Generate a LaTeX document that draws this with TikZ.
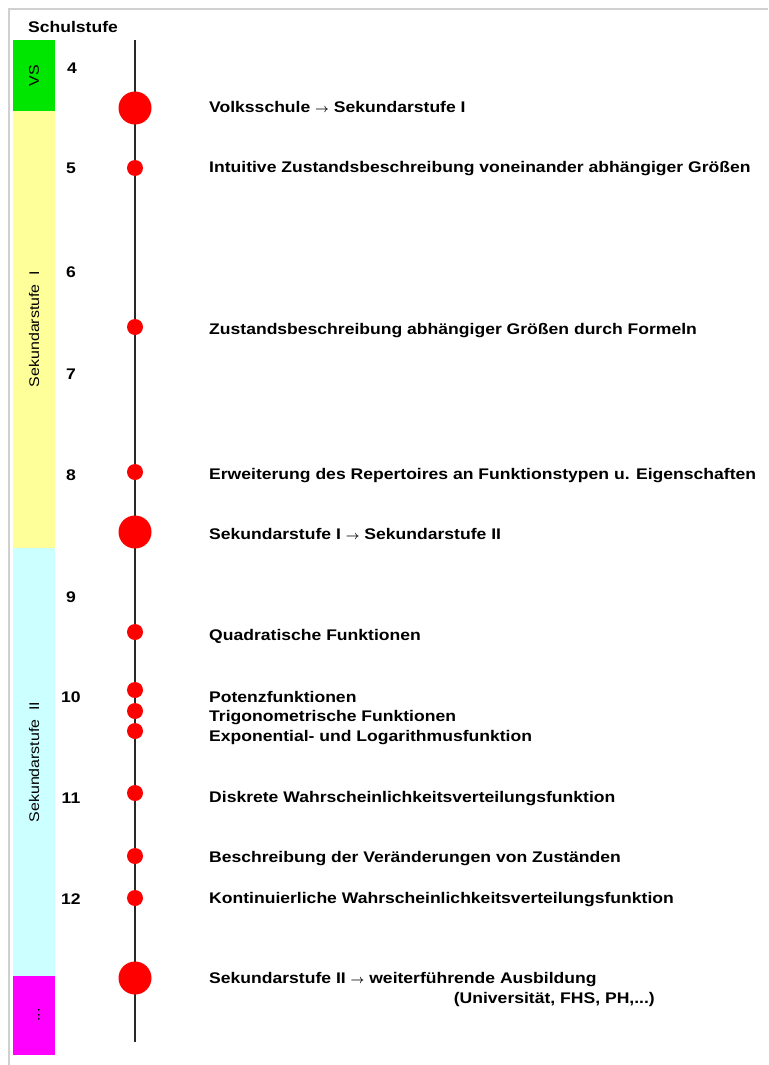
\documentclass[tikz,border=0pt]{standalone}
\usepackage{fontspec}
\setmainfont{Liberation Sans}
\newfontfamily\widesans[FakeStretch=1.14]{Liberation Sans}
\usepackage{tikz}
\usetikzlibrary{positioning}
\definecolor{StageGreen}{RGB}{0, 230, 0}
\definecolor{StageYellow}{RGB}{255, 255, 153}
\definecolor{StageCyan}{RGB}{204, 255, 255}
\definecolor{StageMagenta}{RGB}{255, 0, 255}
\definecolor{DotRed}{RGB}{255, 0, 0}
\definecolor{AxisGray}{RGB}{40, 40, 40}
\definecolor{FrameGray}{RGB}{208, 208, 208}
\newcommand{\stagearrow}{{\fontsize{13}{15}\selectfont$\boldsymbol{\rightarrow}$}}
\usepackage{amsmath,bm}
\tikzset{
  stagelbl/.style={rotate=90, inner sep=0pt, font=\widesans\fontsize{14}{16}\selectfont},
  grade/.style={inner sep=0pt, font=\widesans\fontsize{15.4}{17}\selectfont\bfseries},
  topic/.style={anchor=west, inner sep=0pt, font=\widesans\fontsize{15.4}{17}\selectfont\bfseries},
  dotsm/.style={circle, fill=DotRed, minimum size=16pt, inner sep=0pt},
  dotbig/.style={circle, fill=DotRed, minimum size=33pt, inner sep=0pt},
  axisline/.style={line width=2pt, color=AxisGray},
}

\begin{document}
\begin{tikzpicture}[x=1pt, y=-1pt]
  \useasboundingbox (0,0) rectangle (768,1065);
  \fill[white] (0,0) rectangle (768,1065);
  \draw[FrameGray, line width=2pt] (9,1065) -- (9,9) -- (768,9);

  % Schulstufen-Balken
  \fill[StageGreen] (13,40) rectangle (55,111);
  \fill[StageYellow] (13,111) rectangle (55,548);
  \fill[StageCyan] (13,548) rectangle (55,976);
  \fill[StageMagenta] (13,976) rectangle (55,1055);
  \node[stagelbl] (vs) at (34,75.5) {VS};
  \node[stagelbl] (sek1) at (34,329) {Sekundarstufe~~I};
  \node[stagelbl] (sek2) at (34,762) {Sekundarstufe~~II};
  \node[stagelbl] (weiter) at (39,1015) {...};

  \node[grade] (head) at (73,27) {Schulstufe};
  \node[grade] (g4) at (72,68) {4};
  \node[grade] (g5) at (71,168) {5};
  \node[grade] (g6) at (71,272) {6};
  \node[grade] (g7) at (71,374) {7};
  \node[grade] (g8) at (71,475) {8};
  \node[grade] (g9) at (71,597) {9};
  \node[grade] (g10) at (71,697) {10};
  \node[grade] (g11) at (71,798) {11};
  \node[grade] (g12) at (71,899) {12};

  % Zeitachse
  \coordinate (top) at (135,40);
  \coordinate (bot) at (135,1042);
  \draw[axisline] (top) -- (bot);

  \node[dotbig] (d1) at (135,108) {};
  \node[dotsm] (d2) at (135,168) {};
  \node[dotsm] (d3) at (135,327) {};
  \node[dotsm] (d4) at (135,472) {};
  \node[dotbig] (d5) at (135,532) {};
  \node[dotsm] (d6) at (135,632) {};
  \node[dotsm] (d7) at (135,690) {};
  \node[dotsm] (d8) at (135,711) {};
  \node[dotsm] (d9) at (135,731) {};
  \node[dotsm] (d10) at (135,793) {};
  \node[dotsm] (d11) at (135,856) {};
  \node[dotsm] (d12) at (135,898) {};
  \node[dotbig] (d13) at (135,978) {};

  \node[topic] (t1) at (209,107) {Volksschule \stagearrow\ Sekundarstufe I};
  \node[topic] (t2) at (209,169) {Intuitive Zustandsbeschreibung voneinander abhängiger Größen};
  \node[topic] (t3) at (209,331) {Zustandsbeschreibung abhängiger Größen durch Formeln};
  \node[topic] (t4) at (209,476) {Erweiterung des Repertoires an Funktionstypen u. Eigenschaften};
  \node[topic] (t5) at (209,534) {Sekundarstufe I \stagearrow\ Sekundarstufe II};
  \node[topic] (t6) at (209,636) {Quadratische Funktionen};
  \node[topic] (t7) at (209,697) {Potenzfunktionen};
  \node[topic] (t8) at (209,718) {Trigonometrische Funktionen};
  \node[topic] (t9) at (209,738) {Exponential- und Logarithmusfunktion};
  \node[topic] (t10) at (209,799) {Diskrete Wahrscheinlichkeitsverteilungsfunktion};
  \node[topic] (t11) at (209,859) {Beschreibung der Veränderungen von Zuständen};
  \node[topic] (t12) at (209,900) {Kontinuierliche Wahrscheinlichkeitsverteilungsfunktion};
  \node[topic] (t13) at (209,980) {Sekundarstufe II \stagearrow\ weiterführende Ausbildung};
  \node[topic, anchor=east] (t13b) at (655,1000) {(Universität, FHS, PH,...)};
\end{tikzpicture}
\end{document}
